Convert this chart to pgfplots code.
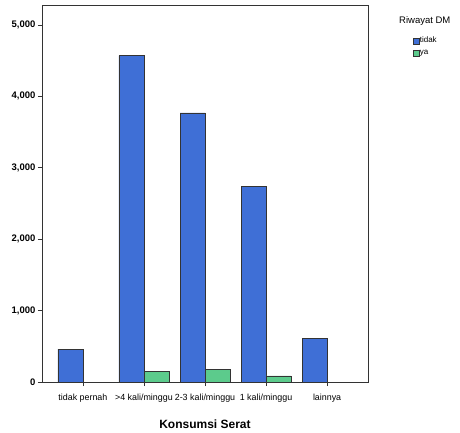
\documentclass[border=0pt]{standalone}
\usepackage{fontspec}
\setmainfont{Liberation Sans}
\usepackage{pgfplots}
\pgfplotsset{compat=1.18}
\definecolor{dmblue}{HTML}{3F6FD6}
\definecolor{dmgreen}{HTML}{5CCB8C}
\definecolor{axgray}{HTML}{333333}
\begin{document}
\begin{tikzpicture}[x=1pt,y=1pt]
\useasboundingbox (-42,-50) rectangle (418,382);
\fill[white] (-42,-50) rectangle (418,382);
\begin{axis}[
  at={(0,0)}, anchor=south west,
  scale only axis, width=326pt, height=377pt,
  clip=false,
  ybar=0pt, bar width=25pt,
  xmin=-0.67, xmax=4.67,
  ymin=0, ymax=5280,
  xtick={0,1,2,3,4},
  xticklabels={tidak pernah,{>4 kali/minggu},2-3 kali/minggu,1 kali/minggu,lainnya},
  ytick={0,1000,2000,3000,4000,5000},
  xtick pos=bottom, ytick pos=left,
  /pgf/number format/assume math mode=true,
  /pgf/number format/1000 sep={,},
  scaled y ticks=false,
  tick align=outside, major tick length=4pt,
  tick style={axgray, line width=0.8pt},
  axis line style={axgray, line width=0.8pt},
  xticklabel style={font=\fontsize{8.9}{9}\selectfont, text=black, yshift=-5pt},
  yticklabel style={font=\fontsize{9.5}{10}\selectfont\bfseries, text=black, xshift=1pt},
  xlabel={Konsumsi Serat},
  xlabel style={font=\fontsize{12}{13}\selectfont\bfseries, yshift=-10pt},
  legend style={at={(1.136,0.918)}, anchor=north west, draw=none, fill=none,
    font=\fontsize{8}{9}\selectfont, row sep=4pt, inner sep=0pt,
    nodes={inner sep=1pt}},
  legend cell align=left,
  legend image code/.code={\draw[#1, draw=axgray, line width=0.3pt] (0pt,-3pt) rectangle (6pt,3pt);},
  every axis plot/.append style={draw=axgray, line width=0.6pt},
]
\addplot[fill=dmblue] coordinates {(0,460) (1,4570) (2,3770) (3,2740) (4,615)};
\addlegendentry{tidak}
\addplot[fill=dmgreen] coordinates {(1,150) (2,180) (3,85)};
\addlegendentry{ya}
\node[anchor=west, inner sep=0pt, font=\fontsize{9.5}{10}\selectfont] at (axis description cs:1.095,0.9576) {Riwayat DM};
\end{axis}
\end{tikzpicture}
\end{document}
